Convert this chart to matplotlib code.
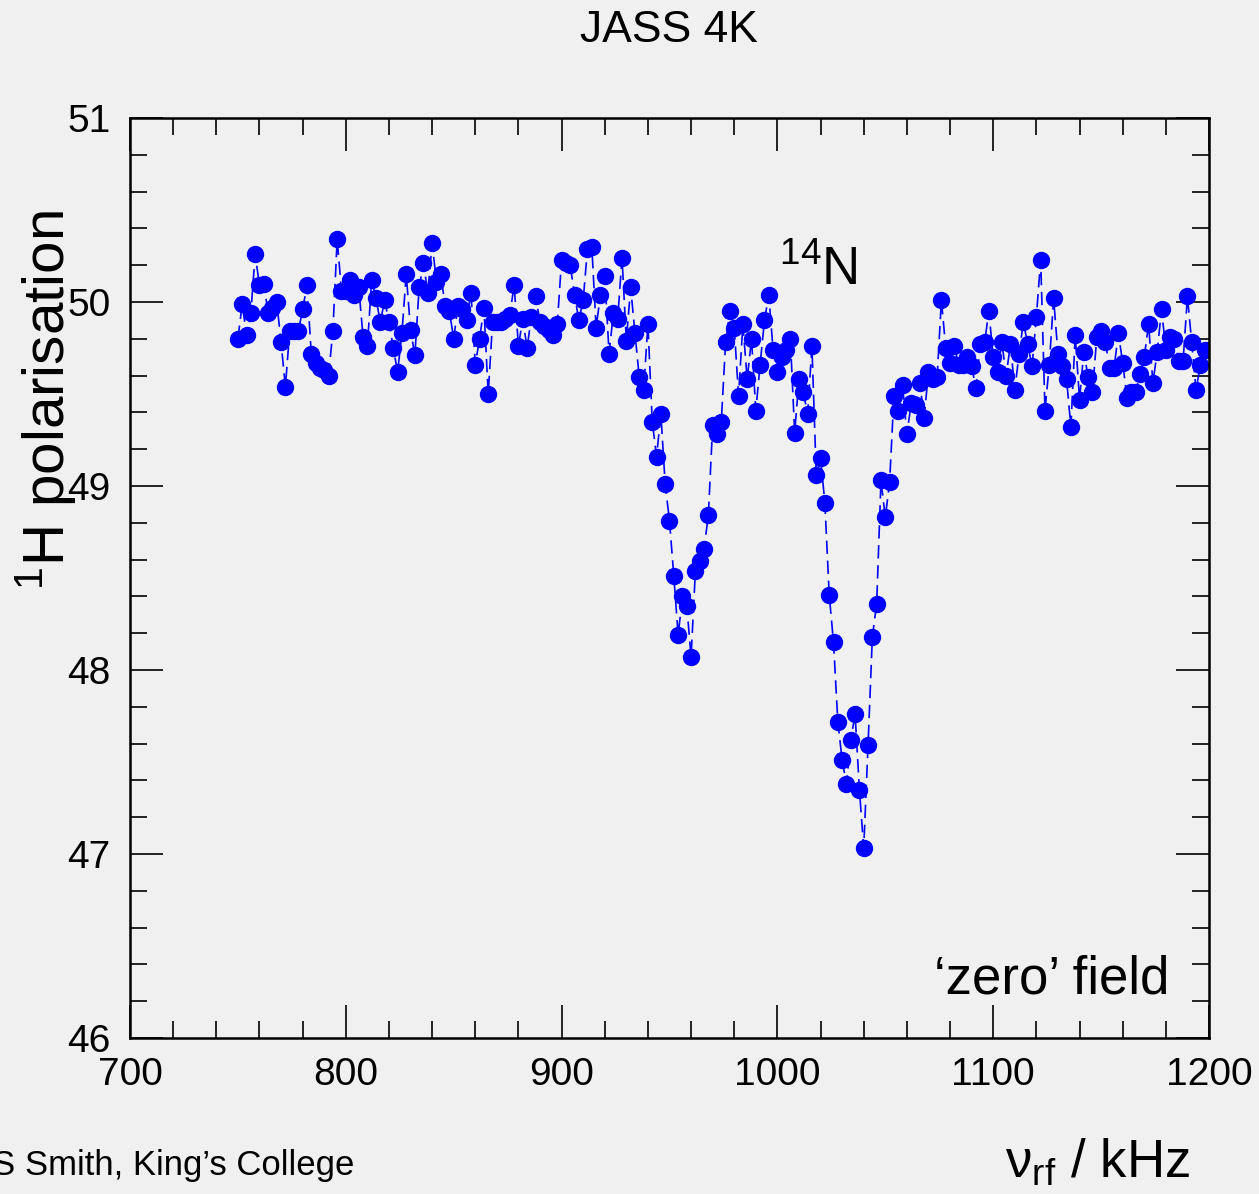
import numpy as np
import matplotlib
matplotlib.use("Agg")
import matplotlib.pyplot as plt
from matplotlib.ticker import MultipleLocator

plt.rcParams['font.family'] = ['Liberation Sans', 'DejaVu Sans']
plt.rcParams['mathtext.fontset'] = 'custom'
plt.rcParams['mathtext.rm'] = 'Liberation Sans'
plt.rcParams['mathtext.it'] = 'Liberation Sans:italic'

# RF frequency scan, 2 kHz steps from 750 to 1200 kHz
freq_start = 750
freq_step = 2
polarisation = [
    49.80, 49.99, 49.82, 49.94, 50.26, 50.09, 50.10, 49.94, 49.97, 50.00,
    49.78, 49.54, 49.84, 49.84, 49.84, 49.96, 50.09, 49.72, 49.67, 49.64,
    49.63, 49.60, 49.84, 50.34, 50.06, 50.06, 50.12, 50.04, 50.08, 49.81,
    49.76, 50.12, 50.02, 49.89, 50.01, 49.89, 49.75, 49.62, 49.83, 50.15,
    49.85, 49.71, 50.08, 50.21, 50.05, 50.32, 50.11, 50.15, 49.98, 49.95,
    49.80, 49.98, 49.96, 49.90, 50.05, 49.66, 49.80, 49.97, 49.50, 49.89,
    49.89, 49.89, 49.91, 49.93, 50.09, 49.76, 49.91, 49.75, 49.92, 50.03,
    49.89, 49.87, 49.85, 49.82, 49.88, 50.23, 50.21, 50.20, 50.04, 49.90,
    50.01, 50.29, 50.30, 49.86, 50.04, 50.14, 49.72, 49.94, 49.91, 50.24,
    49.79, 50.08, 49.83, 49.59, 49.52, 49.88, 49.35, 49.16, 49.39, 49.01,
    48.81, 48.51, 48.19, 48.40, 48.35, 48.07, 48.54, 48.59, 48.66, 48.84,
    49.33, 49.28, 49.35, 49.78, 49.95, 49.86, 49.49, 49.88, 49.58, 49.80,
    49.41, 49.66, 49.90, 50.04, 49.74, 49.62, 49.70, 49.74, 49.80, 49.29,
    49.58, 49.51, 49.39, 49.76, 49.06, 49.15, 48.91, 48.41, 48.15, 47.72,
    47.51, 47.38, 47.62, 47.76, 47.35, 47.03, 47.59, 48.18, 48.36, 49.03,
    48.83, 49.02, 49.49, 49.41, 49.55, 49.28, 49.45, 49.44, 49.56, 49.37,
    49.62, 49.58, 49.59, 50.01, 49.75, 49.67, 49.76, 49.66, 49.66, 49.70,
    49.65, 49.53, 49.77, 49.78, 49.95, 49.70, 49.62, 49.78, 49.60, 49.77,
    49.52, 49.72, 49.89, 49.77, 49.65, 49.92, 50.23, 49.41, 49.66, 50.02,
    49.72, 49.65, 49.58, 49.32, 49.82, 49.47, 49.73, 49.59, 49.51, 49.81,
    49.84, 49.78, 49.64, 49.64, 49.83, 49.67, 49.48, 49.51, 49.51, 49.61,
    49.70, 49.88, 49.56, 49.73, 49.96, 49.74, 49.81, 49.80, 49.68, 49.68,
    50.03, 49.78, 49.52, 49.66, 49.74, 49.74,
]
frequency = freq_start + freq_step * np.arange(len(polarisation))

x_ticks = [700, 800, 900, 1000, 1100, 1200]
y_ticks = [46, 47, 48, 49, 50, 51]

W, H = 1259, 1194
fig = plt.figure(figsize=(W / 100, H / 100), dpi=100, facecolor='#f0f0f0')
ax = fig.add_axes([130 / W, 1 - 1038 / H, (1209 - 130) / W, (1038 - 118) / H])
ax.set_facecolor('#f0f0f0')

ax.plot(frequency, polarisation, color='#0000ff', lw=1.2, ls=(0, (8, 4)),
        marker='o', ms=11.5, mec='#0000ff', mfc='#0000ff', clip_on=True)

ax.set_xlim(700, 1200)
ax.set_ylim(46, 51)
ax.set_xticks(x_ticks)
ax.set_yticks(y_ticks)
ax.xaxis.set_minor_locator(MultipleLocator(20))
ax.yaxis.set_minor_locator(MultipleLocator(0.2))
ax.tick_params(which='both', direction='in', top=True, right=True,
               width=1.2, color='black', labelsize=28)
ax.tick_params(which='major', length=24)
ax.tick_params(which='minor', length=12)
ax.tick_params(axis='x', pad=14)
ax.tick_params(axis='y', pad=14)
for s in ax.spines.values():
    s.set_linewidth(1.8)

fig.text(669 / W, 1 - 30 / H, 'JASS 4K', ha='center', va='center', fontsize=32)
fig.text(45 / W, 1 - 400 / H, r'$^{1}$H polarisation', rotation=90,
         ha='center', va='center', fontsize=42)
ax.text(1019, 50.17, r'$^{14}$N', ha='center', va='center', fontsize=38)
fig.text(1169 / W, 1 - 980 / H, '\u2018zero\u2019 field', ha='right',
         va='center', fontsize=38)
fig.text(1190 / W, 1 - 1163 / H, '\u03bd$_{\\rm rf}$ / kHz', ha='right',
         va='center', fontsize=38)
fig.text(-8 / W, 1 - 1165 / H, 'S Smith, King\u2019s College', ha='left',
         va='center', fontsize=25)

fig.savefig('out.png', dpi=100, facecolor='#f0f0f0')
